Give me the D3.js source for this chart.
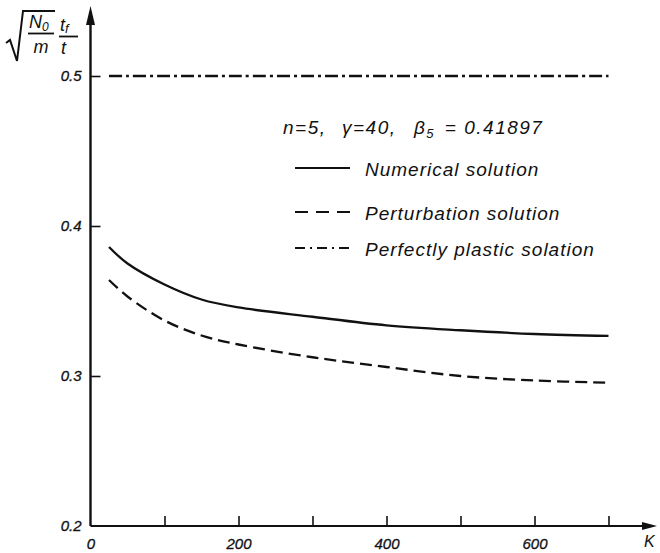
<!DOCTYPE html>
<html>
<head>
<meta charset="utf-8">
<script src="https://cdn.jsdelivr.net/npm/d3@7"></script>
<style>
  html, body { margin: 0; padding: 0; background: #fff; }
  svg { display: block; }
  text { font-family: "Liberation Sans", Arial, sans-serif; font-style: italic; fill: #111; }
</style>
</head>
<body>
<svg id="chart" width="660" height="553"></svg>
<script>
// ---- data ----
const kValues = [25, 50, 100, 150, 200, 300, 400, 500, 600, 700];
const numerical = [0.386, 0.375, 0.361, 0.351, 0.3457, 0.3395, 0.3338, 0.3305, 0.328, 0.3267];
const perturbation = [0.364, 0.353, 0.337, 0.327, 0.321, 0.3125, 0.306, 0.300, 0.297, 0.2955];
const plastic = [0.5, 0.5, 0.5, 0.5, 0.5, 0.5, 0.5, 0.5, 0.5, 0.5];
const xTicks = [0, 100, 200, 300, 400, 500, 600, 700];
const xTickLabels = ["0", "", "200", "", "400", "", "600", ""];
const yTicks = [0.2, 0.3, 0.4, 0.5];
const yTickLabels = ["0.2", "0.3", "0.4", "0.5"];
const legendLabels = ["Numerical solution", "Perturbation solution", "Perfectly plastic solation"];

// ---- layout ----
const svg = d3.select("#chart");
const x = d3.scaleLinear().domain([0, 700]).range([90.5, 608.5]);
const y = d3.scaleLinear().domain([0.2, 0.5]).range([526, 76]);
const ink = "#111";

// axes lines with arrows
const x0 = x(0), y0 = y(0.2);
svg.append("line").attr("x1", x0).attr("x2", 650).attr("y1", y0).attr("y2", y0)
  .attr("stroke", ink).attr("stroke-width", 2.2);
svg.append("line").attr("x1", x0).attr("x2", x0).attr("y1", y0).attr("y2", 14)
  .attr("stroke", ink).attr("stroke-width", 2.4);
svg.append("path").attr("d", `M${x0},6 L${x0 - 4.5},25 L${x0 + 4.5},25 Z`).attr("fill", ink);
svg.append("path").attr("d", `M657,${y0} L642,${y0 - 4} L642,${y0 + 4} Z`).attr("fill", ink);

// x axis ticks (upward) and labels
const xAxis = d3.axisBottom(x)
  .tickValues(xTicks)
  .tickSizeInner(-10)
  .tickSizeOuter(0)
  .tickPadding(12)
  .tickFormat((d, i) => xTickLabels[i]);
const gx = svg.append("g").attr("transform", `translate(0,${y0})`).call(xAxis);
gx.select(".domain").remove();
gx.selectAll(".tick line").attr("stroke", ink).attr("stroke-width", 1.6)
  .filter(d => d === 0).remove();
gx.selectAll(".tick text").attr("font-size", 15).attr("font-family", "Liberation Sans")
  .attr("font-style", "italic").attr("fill", ink)
  .attr("stroke", ink).attr("stroke-width", 0.3);

// y axis ticks (to the right) and labels
const yAxis = d3.axisLeft(y)
  .tickValues(yTicks)
  .tickSizeInner(-10)
  .tickSizeOuter(0)
  .tickPadding(9)
  .tickFormat((d, i) => yTickLabels[i]);
const gy = svg.append("g").attr("transform", `translate(${x0},0)`).call(yAxis);
gy.select(".domain").remove();
gy.selectAll(".tick line").attr("stroke", ink).attr("stroke-width", 1.6)
  .filter(d => d === 0.2).remove();
gy.selectAll(".tick text").attr("font-size", 15).attr("font-family", "Liberation Sans")
  .attr("font-style", "italic").attr("fill", ink)
  .attr("stroke", ink).attr("stroke-width", 0.3);

// K label
svg.append("text").attr("x", 644).attr("y", 547).attr("font-size", 16).text("K");

// y-axis title: sqrt(N0/m) * tf/t
svg.append("path")
  .attr("d", "M6,43 L10,40 L17,61 L23,11 L55,11")
  .attr("fill", "none").attr("stroke", ink).attr("stroke-width", 2);
const tN = svg.append("text").attr("x", 29).attr("y", 28).attr("font-size", 18);
tN.append("tspan").text("N");
tN.append("tspan").attr("font-size", 12).attr("dy", 3).text("0");
svg.append("line").attr("x1", 28).attr("x2", 54).attr("y1", 33.5).attr("y2", 33.5)
  .attr("stroke", ink).attr("stroke-width", 1.8);
svg.append("text").attr("x", 41).attr("y", 53).attr("font-size", 18)
  .attr("text-anchor", "middle").text("m");
const tT = svg.append("text").attr("x", 60).attr("y", 31).attr("font-size", 18);
tT.append("tspan").text("t");
tT.append("tspan").attr("font-size", 13).attr("dy", 2).text("f");
svg.append("line").attr("x1", 59).attr("x2", 78).attr("y1", 36.5).attr("y2", 36.5)
  .attr("stroke", ink).attr("stroke-width", 1.8);
svg.append("text").attr("x", 61).attr("y", 54).attr("font-size", 18).text("t");

// ---- series ----
const line = d3.line().x((d, i) => x(kValues[i])).y(d => y(d)).curve(d3.curveCatmullRom.alpha(0.5));

svg.append("path").datum(numerical).attr("d", line)
  .attr("fill", "none").attr("stroke", ink).attr("stroke-width", 2.3);
svg.append("path").datum(perturbation).attr("d", line)
  .attr("fill", "none").attr("stroke", ink).attr("stroke-width", 2.3)
  .attr("stroke-dasharray", "12,6");
svg.append("path").datum(plastic).attr("d", line)
  .attr("fill", "none").attr("stroke", ink).attr("stroke-width", 2.3)
  .attr("stroke-dasharray", "13,4,3,4");

// ---- parameter header ----
const hdr = svg.append("g").attr("font-size", 19).attr("letter-spacing", 1.5);
hdr.append("text").attr("x", 283).attr("y", 134).text("n=5,");
hdr.append("text").attr("x", 342).attr("y", 134).text("γ=40,");
const hb = hdr.append("text").attr("x", 414).attr("y", 134).attr("xml:space", "preserve");
hb.append("tspan").text("β");
hb.append("tspan").attr("font-size", 13).attr("dy", 4).text("5");
hb.append("tspan").attr("dy", -4).attr("dx", 3).text(" = 0.41897");

// ---- legend ----
const legY = [168, 212, 248];
const legDash = [null, "13,8", "10,5,2,5"];
legendLabels.forEach((lab, i) => {
  svg.append("line").attr("x1", 295).attr("x2", 350).attr("y1", legY[i]).attr("y2", legY[i])
    .attr("stroke", ink).attr("stroke-width", 2)
    .attr("stroke-dasharray", legDash[i]);
  svg.append("text").attr("x", 365).attr("y", legY[i] + 8)
    .attr("font-size", 19).attr("letter-spacing", 1).text(lab);
});
</script>
</body>
</html>
